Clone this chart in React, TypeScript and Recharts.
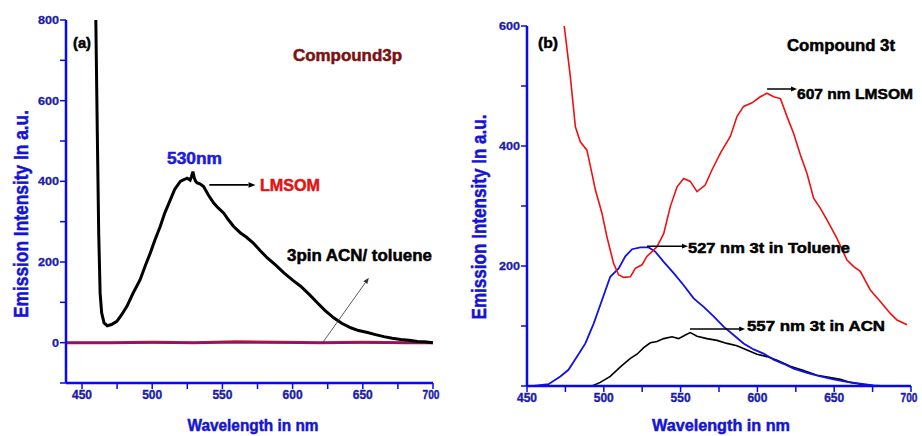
import React from 'react'
import { LineChart, Line, XAxis, YAxis, ReferenceLine } from 'recharts'

// panel (a): compound 3p
const lmsom3pX = [459.8, 460.9, 461.9, 462.9, 464, 465.7, 468, 471, 474.8, 478, 482, 486, 491.4, 495, 498.6, 502, 505.7, 509, 512.9, 516, 520, 522.5, 524.8, 527, 528, 529, 530, 531, 532, 534, 536.6, 540, 543.8, 547, 551, 554, 558, 562.9, 567, 572, 577, 582, 588, 593.8, 600, 605.7, 612, 617.6, 623, 629.5, 635, 641.4, 647, 653.4, 659, 665, 671, 677, 683, 689, 694, 699.8]
const lmsom3pY = [810, 519, 272, 123, 74, 49, 42, 45, 53, 68, 90, 120, 156, 190, 222, 255, 288, 322, 354, 380, 400, 404, 408, 403, 412, 424, 408, 400, 396, 394, 387, 366, 346, 334, 321, 306, 288, 272, 262, 247, 228, 210, 192, 173, 155, 140, 119, 99, 80, 61, 48, 37, 30, 25, 20, 15, 11, 8, 6, 3, 2, 0]
const acn3pX = [438.6, 470, 500, 530, 560, 590, 620, 650, 680, 700]
const acn3pY = [0, 0, 1, 0, 2, 1, 0, 1, 0, 0]
const tol3pX = [438.6, 480, 520, 560, 600, 640, 680, 700]
const tol3pY = [0, 0, 0, 0, 0, 0, 0, 0]

// panel (b): compound 3t
const lmsom3tX = [474, 478.2, 481.5, 484.7, 489, 492.3, 494.5, 498.8, 502, 506.4, 509.7, 513, 517.3, 520.5, 524.9, 528, 531.4, 534.6, 539, 543.3, 547.7, 552, 556.3, 560.7, 566, 570.4, 575.9, 582.4, 586.7, 591, 596.5, 601.9, 606.2, 610.6, 615, 619.3, 623.6, 628, 632.3, 636.6, 641, 645.3, 651.8, 658.3, 662.7, 667, 673.5, 680, 686.5, 690.9, 697.4]
const lmsom3tY = [605, 516, 432, 407, 393, 354, 327, 288, 249, 204, 185, 181, 182, 196, 202, 216, 224, 232, 254, 299, 332, 346, 341, 324, 335, 360, 388, 416, 449, 466, 472, 482, 488, 482, 479, 449, 421, 385, 354, 313, 296, 277, 246, 210, 199, 191, 160, 141, 121, 110, 102]
const tol3tX = [454.3, 464, 471.7, 477, 482.6, 488, 493.4, 498.8, 504.2, 509.7, 514, 518.4, 523.8, 529.2, 533.5, 539, 545.5, 552, 558.5, 565, 571.5, 578, 584.5, 591, 597.6, 604, 610.6, 617, 623.6, 632.3, 641, 649.6, 658.3, 667, 675.7, 680, 700]
const tol3tY = [0, 3, 16, 27, 49, 71, 104, 143, 182, 196, 216, 228, 231, 231, 224, 207, 188, 168, 146, 132, 116, 99, 85, 71, 61, 54, 44, 37, 29, 22, 16, 11, 7, 4, 1, 0, 0]
const acn3tX = [492.3, 497.7, 504.2, 510.8, 517.3, 521.6, 526, 530.3, 534.6, 539, 544.4, 548.7, 553.1, 556.3, 560.7, 567.2, 573.7, 580.2, 586.7, 593.2, 599.7, 606.2, 612.8, 621.4, 630.1, 638.8, 647.5, 654, 660.5, 669.2, 675.7, 700]
const acn3tY = [0, 6, 16, 32, 46, 53, 64, 72, 74, 79, 82, 79, 85, 89, 83, 79, 76, 71, 67, 60, 53, 49, 43, 33, 26, 18, 14, 11, 6, 2, 0, 0]

const xTicks = [450, 475, 500, 525, 550, 575, 600, 625, 650, 675, 700]
const yTicksA = [-100, 0, 100, 200, 300, 400, 500, 600, 700, 800]
const yTicksB = [0, 100, 200, 300, 400, 500, 600]

const zip = (xs: number[], ys: number[]) => xs.map((x, i) => ({ x, y: ys[i] }))

const FONT = '"Liberation Sans", Arial, sans-serif'
const AXIS = '#0a0ae6'
const TICKTXT = '#1c1ca8'

const XTick = (props: any) => {
  const { x, y, payload } = props
  if (payload.value % 50 !== 0) return <g />
  const last = payload.value === 700
  return (
    <text x={last ? x - 2 : x} y={y + 8} textAnchor="middle" fontFamily={FONT} fontWeight="bold" fontSize={13}
      fill={TICKTXT} stroke={TICKTXT} strokeWidth={0.4} textLength={last ? 17 : 20}
      lengthAdjust="spacingAndGlyphs">
      {payload.value}
    </text>
  )
}

const makeYTick = (skip: (v: number) => boolean) => (props: any) => {
  const { x, y, payload } = props
  if (skip(payload.value)) return <g />
  const s = String(payload.value)
  return (
    <text x={x} y={y + 4} textAnchor="end" fontFamily={FONT} fontWeight="bold" fontSize={11}
      fill={TICKTXT} stroke={TICKTXT} strokeWidth={0.3} textLength={s.length * 7} lengthAdjust="spacingAndGlyphs">
      {s}
    </text>
  )
}

const Arrow = (props: any) => {
  const { x1, y1, x2, y2, color = '#000', width = 1.5, head = 7 } = props
  const a = Math.atan2(y2 - y1, x2 - x1)
  const hx = x2 - head * Math.cos(a)
  const hy = y2 - head * Math.sin(a)
  const w = head * 0.4
  const p = `${x2},${y2} ${hx - w * Math.sin(a)},${hy + w * Math.cos(a)} ${hx + w * Math.sin(a)},${hy - w * Math.cos(a)}`
  return (
    <g>
      <line x1={x1} y1={y1} x2={hx} y2={hy} stroke={color} strokeWidth={width} />
      <polygon points={p} fill={color} />
    </g>
  )
}

const T = ({ x, y, w, size = 16, fill = '#000', children, anchor = 'start', rotate }: any) => (
  <text x={x} y={y} fontFamily={FONT} fontWeight="bold" fontSize={size} fill={fill} stroke={fill} strokeWidth={0.5}
    dominantBaseline="central" textAnchor={anchor} textLength={w} lengthAdjust="spacingAndGlyphs"
    transform={rotate ? `rotate(-90 ${x} ${y})` : undefined}>
    {children}
  </text>
)

const axisLine = { stroke: AXIS, strokeWidth: 2.5 }
const tickLine = { stroke: AXIS, strokeWidth: 1.5 }

export default function App() {
  return (
    <div style={{ position: 'absolute', left: 0, top: 0, width: 922, height: 436, background: '#fff' }}>
      <div style={{ position: 'absolute', left: 0, top: 0 }}>
        <LineChart width={460} height={436} margin={{ top: 20, right: 27, bottom: 23, left: 16 }}>
          <XAxis xAxisId="b" type="number" dataKey="x" domain={[438.6, 700]} ticks={xTicks} allowDataOverflow
            height={30} tickSize={6} axisLine={axisLine} tickLine={tickLine} tick={<XTick />} interval={0} />
          <XAxis xAxisId="t" orientation="top" type="number" dataKey="x" domain={[438.6, 700]} height={0}
            tick={false} tickLine={false} axisLine={axisLine} />
          <YAxis yAxisId="l" type="number" domain={[-100, 800]} ticks={yTicksA} allowDataOverflow width={50}
            tickSize={6} tickMargin={1} axisLine={axisLine} tickLine={tickLine} interval={0}
            tick={makeYTick((v) => v % 200 !== 0)} />
          <YAxis yAxisId="r" orientation="right" type="number" domain={[-100, 800]} width={0}
            tick={false} tickLine={false} axisLine={axisLine} />
          <Line xAxisId="b" yAxisId="l" data={zip(acn3pX, acn3pY)} dataKey="y" stroke="#d0102a" strokeWidth={3}
            dot={false} isAnimationActive={false} />
          <Line xAxisId="b" yAxisId="l" data={zip(tol3pX, tol3pY)} dataKey="y" stroke="#4a1aa0" strokeOpacity={0.6}
            strokeWidth={2} dot={false} isAnimationActive={false} />
          <Line xAxisId="b" yAxisId="l" data={zip(lmsom3pX, lmsom3pY)} dataKey="y" stroke="#000" strokeWidth={3}
            dot={false} isAnimationActive={false} />
          <ReferenceLine xAxisId="b" yAxisId="l" segment={[{ x: 540.7, y: 391 }, { x: 573.6, y: 391 }]}
            shape={(p: any) => <Arrow {...p} width={1.8} />} />
          <ReferenceLine xAxisId="b" yAxisId="l" segment={[{ x: 621.4, y: 0 }, { x: 654.3, y: 161 }]}
            shape={(p: any) => <Arrow {...p} color="#333" width={0.8} head={6} />} />
        </LineChart>
      </div>
      <div style={{ position: 'absolute', left: 460, top: 0 }}>
        <LineChart width={462} height={436} margin={{ top: 26, right: 11, bottom: 20, left: 17 }}>
          <XAxis xAxisId="b" type="number" dataKey="x" domain={[450, 700]} ticks={xTicks} allowDataOverflow
            height={30} tickSize={6} axisLine={axisLine} tickLine={tickLine} tick={<XTick />} interval={0} />
          <XAxis xAxisId="t" orientation="top" type="number" dataKey="x" domain={[450, 700]} height={0}
            tick={false} tickLine={false} axisLine={axisLine} />
          <YAxis yAxisId="l" type="number" domain={[0, 600]} ticks={yTicksB} allowDataOverflow width={50}
            tickSize={6} tickMargin={1} axisLine={axisLine} tickLine={tickLine} interval={0}
            tick={makeYTick((v) => v === 0 || v % 200 !== 0)} />
          <YAxis yAxisId="r" orientation="right" type="number" domain={[0, 600]} ticks={yTicksB} width={0} mirror
            tickSize={4} tickFormatter={() => ''} tickLine={{ stroke: AXIS, strokeWidth: 1 }} axisLine={axisLine} />
          <Line xAxisId="b" yAxisId="l" data={zip(acn3tX, acn3tY)} dataKey="y" stroke="#000" strokeWidth={1.6}
            dot={false} isAnimationActive={false} />
          <Line xAxisId="b" yAxisId="l" data={zip(tol3tX, tol3tY)} dataKey="y" stroke="#1010e8" strokeWidth={1.8}
            dot={false} isAnimationActive={false} />
          <Line xAxisId="b" yAxisId="l" data={zip(lmsom3tX, lmsom3tY)} dataKey="y" stroke="#ee1010" strokeWidth={1.6}
            dot={false} isAnimationActive={false} />
          <ReferenceLine xAxisId="b" yAxisId="l" segment={[{ x: 606.3, y: 495 }, { x: 625.8, y: 495 }]}
            shape={(p: any) => <Arrow {...p} width={1.5} head={6} />} />
          <ReferenceLine xAxisId="b" yAxisId="l" segment={[{ x: 528.1, y: 233 }, { x: 554.8, y: 233 }]}
            shape={(p: any) => <Arrow {...p} width={1.5} head={6} />} />
          <ReferenceLine xAxisId="b" yAxisId="l" segment={[{ x: 556.1, y: 95 }, { x: 592, y: 95 }]}
            shape={(p: any) => <Arrow {...p} width={1.5} head={6} />} />
        </LineChart>
      </div>
      <svg width={922} height={436} style={{ position: 'absolute', left: 0, top: 0, pointerEvents: 'none' }}>
        <T x={20} y={214} w={208} size={21} fill="#1414d4" anchor="middle" rotate>Emission Intensity In a.u.</T>
        <T x={253} y={425} w={131} size={17} fill="#1414d4" anchor="middle">Wavelength in nm</T>
        <T x={73} y={42} w={18} size={15}>(a)</T>
        <T x={293} y={55} w={109} size={16} fill="#7a1212">Compound3p</T>
        <T x={167} y={158} w={55} size={16} fill="#1a1ae0">530nm</T>
        <T x={260} y={185} w={60} size={16} fill="#e01414">LMSOM</T>
        <T x={287} y={255} w={145} size={16}>3pin ACN/ toluene</T>

        <T x={478} y={217} w={205} size={21} fill="#1414d4" anchor="middle" rotate>Emission Intensity In a.u.</T>
        <T x={721} y={425} w={138} size={17} fill="#1414d4" anchor="middle">Wavelength in nm</T>
        <T x={538} y={42} w={20} size={15}>(b)</T>
        <T x={787} y={45} w={108} size={16}>Compound 3t</T>
        <T x={797} y={93} w={116} size={15}>607 nm LMSOM</T>
        <T x={688} y={247} w={162} size={15}>527 nm  3t in Toluene</T>
        <T x={747} y={325} w={138} size={15}>557 nm  3t in ACN</T>
      </svg>
    </div>
  )
}
